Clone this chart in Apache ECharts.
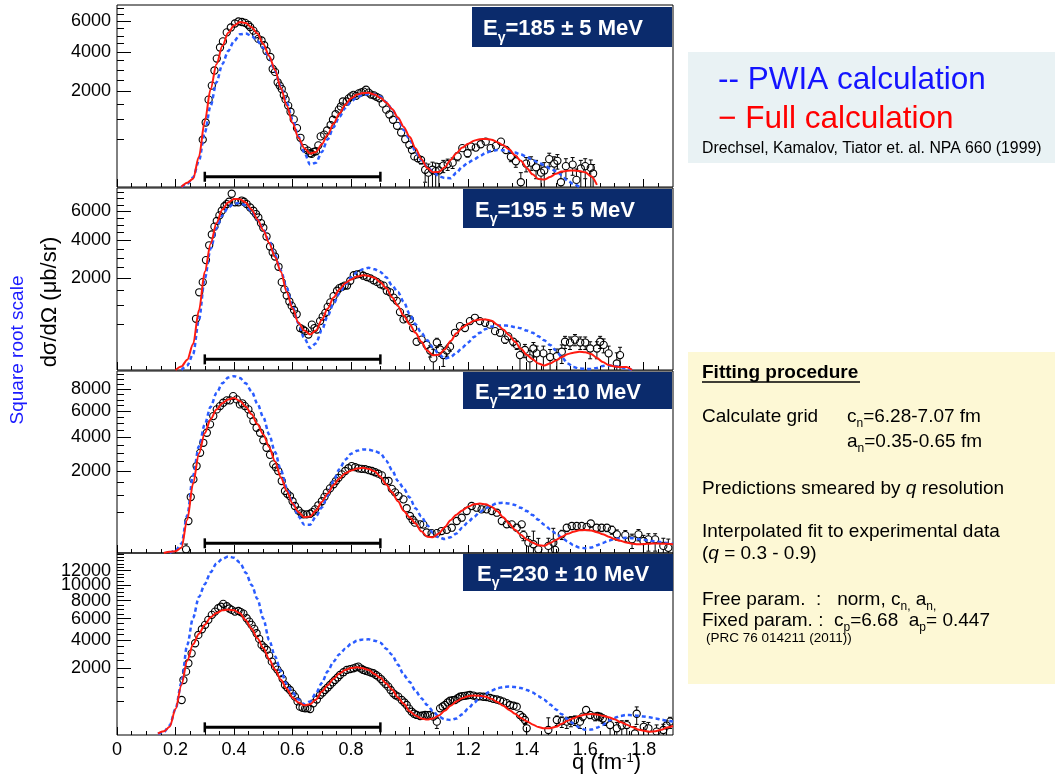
<!DOCTYPE html>
<html>
<head>
<meta charset="utf-8">
<title>Cross sections, square root scale</title>
<script src="https://cdn.jsdelivr.net/npm/echarts@6/dist/echarts.min.js"></script>
<style>
html, body { margin: 0; padding: 0; background: #fff; }
#chart { width: 1055px; height: 780px; }
</style>
</head>
<body>
<div id="chart"></div>
<script>
// q grid for the calculated curves (fm^-1), one row = 0.2
const qGrid = [
  0.12,0.14,0.16,0.18,0.20,0.22,0.24,0.26,0.28,0.30,
  0.32,0.34,0.36,0.38,0.40,0.42,0.44,0.46,0.48,0.50,
  0.52,0.54,0.56,0.58,0.60,0.62,0.64,0.66,0.68,0.70,
  0.72,0.74,0.76,0.78,0.80,0.82,0.84,0.86,0.88,0.90,
  0.92,0.94,0.96,0.98,1.00,1.02,1.04,1.06,1.08,1.10,
  1.12,1.14,1.16,1.18,1.20,1.22,1.24,1.26,1.28,1.30,
  1.32,1.34,1.36,1.38,1.40,1.42,1.44,1.46,1.48,1.50,
  1.52,1.54,1.56,1.58,1.60,1.62,1.64,1.66,1.68,1.70,
  1.72,1.74,1.76,1.78,1.80,1.82,1.84,1.86,1.88,1.90
];

// Eγ = 185 MeV
const red185 = [
  null,null,null,null,null,0,4,15,200,950,
  2100,3300,4350,5200,5700,5960,5880,5580,5150,4480,
  3760,3000,2150,1450,900,530,330,245,270,400,
  600,880,1180,1480,1720,1870,1930,1940,1870,1740,
  1560,1330,1060,790,550,330,170,80,48,50,
  85,160,250,340,410,470,500,505,490,440,
  380,310,220,150,80,35,14,12,22,38,
  52,58,60,56,48,25,1,null,null,null,
  null,null,null,null,null,null,null,null,null,null
];
const blue185 = [
  null,null,null,null,null,0,2,20,150,650,
  1450,2400,3300,4050,4650,5100,5150,5000,4650,4250,
  3650,2950,2200,1550,1000,560,260,110,130,270,
  500,780,1080,1360,1600,1760,1850,1890,1880,1790,
  1570,1330,1010,710,500,280,160,88,50,25,
  18,17,45,90,130,165,210,255,285,300,
  295,285,260,230,200,160,130,105,75,55,
  30,8,2,0,null,null,null,null,null,null,
  null,null,null,null,null,null,null,null,null,null
];
// [q, dσ/dΩ, error]
const points185 = [
  [.293,490,60],[.303,910,70],[.313,1670,80],[.324,2250,90],[.333,2970,100],[.341,3610,100],[.352,4260,110],
  [.362,4640,110],[.375,5230,120],[.389,5570,120],[.403,5850,120],[.415,6000,130],[.427,5960,130],[.438,5900,120],
  [.448,5760,120],[.455,5600,120],[.466,5350,120],[.475,5100,110],[.483,4800,110],[.494,4700,110],[.503,4400,100],
  [.511,4050,100],[.524,3700,100],[.532,3050,90],[.540,2900,90],[.549,2400,80],[.556,2250,80],[.563,2100,80],
  [.570,1850,70],[.576,1680,70],[.585,1450,60],[.593,1240,60],[.604,1000,55],[.615,760,50],[.627,530,45],
  [.640,330,40],[.652,290,40],[.660,250,40],[.665,240,40],[.672,270,40],[.680,280,40],[.688,380,40],
  [.696,560,45],[.708,600,45],[.718,700,50],[.730,840,55],[.738,990,55],[.747,1160,60],[.758,1310,60],
  [.765,1420,60],[.772,1600,65],[.785,1600,65],[.792,1720,65],[.800,1800,70],[.808,1860,70],[.817,1820,70],
  [.826,1920,70],[.835,1960,70],[.843,1990,70],[.851,2070,70],[.860,1950,70],[.868,1870,70],[.878,1840,70],
  [.887,1780,65],[.897,1720,65],[.908,1520,60],[.920,1310,60],[.931,1150,55],[.943,990,50],[.957,820,50],
  [.971,650,45],[.985,500,45],[.999,390,40],[1.008,300,40],[1.016,205,40],[1.028,180,40],[1.039,160,45],
  [1.053,65,60],[1.064,45,70],[1.078,65,70],[1.089,55,70],[1.100,60,60],[1.115,100,55],[1.130,115,55],
  [1.147,130,55],[1.164,205,55],[1.180,330,55],[1.198,250,55],[1.210,360,55],[1.226,340,55],[1.243,400,55],
  [1.260,450,60],[1.277,330,55],[1.295,370,55],[1.312,450,60],[1.329,300,55],[1.346,200,60],[1.363,145,60],
  [1.380,5,40],[1.398,120,70],[1.415,130,70],[1.432,85,70],[1.449,45,60],[1.460,60,70],[1.477,170,80],
  [1.494,120,80],[1.505,150,80],[1.517,5,40],[1.534,95,80],[1.557,110,80],[1.570,11,60],[1.585,75,80],
  [1.600,95,80],[1.619,80,80],[1.627,40,70]
];

// Eγ = 195 MeV
const red195 = [
  null,null,null,null,0,3,25,160,850,2300,
  3800,5150,6150,6700,6980,6950,6700,6150,5400,4650,
  3850,3050,2300,1450,900,530,370,300,370,600,
  900,1250,1550,1800,1950,2080,2140,2110,2030,1840,
  1600,1260,980,700,500,330,190,90,52,55,
  100,200,320,430,510,580,610,610,580,490,
  390,290,190,110,55,28,10,5,10,22,
  40,60,72,80,75,62,35,15,6,3,
  2,2,0,null,null,null,null,null,null,null
];
const blue195 = [
  null,null,null,null,null,0,5,60,600,2000,
  3500,4800,5700,6300,6600,6650,6450,6000,5400,4700,
  3950,3150,2350,1600,950,520,240,115,170,380,
  700,1050,1400,1750,2050,2280,2420,2490,2420,2290,
  2050,1700,1450,1100,750,500,330,210,120,60,
  30,40,70,120,180,260,330,400,450,470,
  475,465,440,415,370,330,270,210,150,90,
  40,10,2,0.5,0.3,0.3,1,4,5,4,
  2,0.5,0,null,null,null,null,null,null,null
];
const points195 = [
  [.270,625,60],[.281,1440,70],[.293,1840,80],[.304,2880,90],[.315,3710,100],[.324,4380,110],[.333,4900,110],
  [.341,5300,120],[.350,5700,120],[.358,6050,130],[.367,6400,130],[.375,6570,130],[.383,6750,130],[.392,7410,140],
  [.403,6710,130],[.415,6710,130],[.426,6850,130],[.434,6750,130],[.443,6570,130],[.455,6300,130],[.466,6050,130],
  [.475,5800,120],[.483,5550,120],[.492,5150,120],[.500,4830,110],[.511,4250,110],[.523,3640,100],[.532,3300,100],
  [.540,3070,90],[.552,2540,90],[.563,1840,80],[.572,1550,70],[.580,1320,70],[.589,1120,60],[.597,980,60],
  [.605,860,55],[.614,740,50],[.626,420,45],[.636,390,45],[.643,360,45],[.654,300,40],[.666,490,45],
  [.675,420,45],[.683,390,45],[.694,570,50],[.703,680,50],[.712,780,55],[.720,950,55],[.729,1090,60],
  [.740,1300,60],[.752,1500,65],[.760,1600,65],[.769,1650,70],[.778,1700,70],[.786,1700,70],[.797,1900,70],
  [.809,2140,75],[.820,2180,75],[.831,2200,75],[.842,2120,75],[.854,2060,75],[.866,2000,70],[.877,1920,70],
  [.888,1850,70],[.900,1750,65],[.911,1700,65],[.922,1500,60],[.933,1440,60],[.945,1250,55],[.956,1140,55],
  [.967,800,50],[.979,610,50],[.990,640,50],[1.001,610,70],[1.012,420,50],[1.024,190,45],[1.041,220,45],
  [1.058,150,45],[1.070,90,50],[1.081,32,70],[1.093,180,60],[1.104,100,55],[1.115,53,50],[1.127,90,45],
  [1.138,130,45],[1.155,330,50],[1.172,460,50],[1.189,420,50],[1.206,570,55],[1.223,650,55],[1.240,570,55],
  [1.258,530,55],[1.275,490,55],[1.292,360,50],[1.309,330,50],[1.326,220,50],[1.337,270,50],[1.354,190,50],
  [1.366,150,50],[1.377,53,60],[1.394,96,60],[1.411,32,60],[1.423,110,70],[1.434,66,70],[1.457,66,70],
  [1.480,40,60],[1.503,45,60],[1.520,80,70],[1.531,190,80],[1.548,180,80],[1.565,220,80],[1.583,180,80],
  [1.600,180,80],[1.617,110,80],[1.640,110,80],[1.651,190,80],[1.663,150,80],[1.680,66,70],[1.708,10,60],
  [1.719,53,70]
];

// Eγ = 210 MeV
const red210 = [
  null,null,0,0.5,1,8,330,1450,2950,4300,
  5350,6150,6700,7050,7180,6900,6400,5750,4950,4200,
  3350,2500,1700,1150,730,500,380,400,540,780,
  1060,1380,1660,1900,2030,2130,2170,2110,2000,1750,
  1400,1100,800,530,380,260,140,80,75,115,
  200,320,440,540,640,710,730,710,640,520,
  380,260,160,100,55,32,18,16,30,50,
  80,110,135,153,158,152,130,105,80,58,
  44,33,26,23,24,26,27,26,25,23
];
const blue210 = [
  null,null,null,0,2,25,420,1800,3400,4950,
  6400,7650,8600,9200,9350,9150,8600,7800,6650,5500,
  4200,3050,2050,1280,760,400,240,240,400,620,
  1000,1550,2100,2600,2950,3120,3200,3190,3100,2980,
  2550,2050,1550,1250,920,600,400,230,120,72,
  58,75,115,190,290,390,500,600,680,745,
  755,730,690,610,527,430,330,240,170,115,
  70,40,18,9,7,9,18,30,46,58,
  66,70,66,58,52,46,40,35,30,26
];
const points210 = [
  [.236,4,20],[.244,306,50],[.252,936,60],[.261,1620,70],[.272,2260,80],[.284,3000,90],[.295,3630,100],
  [.307,4320,110],[.318,4945,110],[.329,5600,120],[.341,6165,130],[.352,6450,130],[.363,6745,130],[.375,6960,140],
  [.386,6960,140],[.397,7360,140],[.409,7050,140],[.420,6600,130],[.428,6700,130],[.437,6450,130],[.449,6165,130],
  [.457,5700,120],[.466,5200,120],[.477,4690,110],[.489,4320,110],[.500,3800,100],[.511,3310,100],[.523,2880,90],
  [.534,2350,80],[.543,2200,80],[.551,2010,80],[.563,1550,70],[.574,1150,60],[.582,1050,60],[.591,970,55],
  [.600,800,50],[.608,660,50],[.620,540,45],[.630,470,45],[.637,447,45],[.648,447,45],[.660,460,45],
  [.668,500,45],[.677,570,50],[.688,680,50],[.700,800,55],[.709,940,55],[.717,1090,60],[.728,1250,60],
  [.740,1410,65],[.748,1550,65],[.757,1690,65],[.768,1850,70],[.780,2010,70],[.791,2150,70],[.802,2260,75],
  [.814,2200,75],[.825,2140,75],[.836,2120,75],[.848,2100,75],[.860,2050,70],[.871,2010,70],[.882,1950,70],
  [.893,1880,70],[.905,1800,65],[.916,1550,60],[.928,1550,60],[.939,1230,55],[.950,1100,55],[.962,970,50],
  [.979,860,50],[.990,600,45],[1.001,410,45],[1.010,330,40],[1.018,275,40],[1.036,246,40],[1.047,240,40],
  [1.058,126,40],[1.075,118,40],[1.093,118,40],[1.109,144,40],[1.127,160,40],[1.144,191,45],[1.161,306,45],
  [1.178,372,50],[1.195,527,50],[1.212,660,55],[1.229,613,55],[1.246,570,55],[1.263,570,55],[1.281,527,55],
  [1.298,485,50],[1.315,306,50],[1.332,246,50],[1.349,246,50],[1.366,191,50],[1.383,246,55],[1.389,95,50],
  [1.406,32,50],[1.423,23,120],[1.440,4,60],[1.474,15,50],[1.491,32,150],[1.497,3,40],[1.520,104,50],
  [1.537,191,55],[1.554,218,55],[1.571,218,55],[1.588,218,55],[1.605,205,55],[1.619,260,60],[1.639,191,55],
  [1.656,191,55],[1.674,191,55],[1.691,160,55],[1.708,104,55],[1.737,95,55],[1.760,56,50],[1.782,104,60],
  [1.799,43,50],[1.816,56,55],[1.839,56,55],[1.867,15,50],[1.884,8,50]
];

// Eγ = 230 MeV
const red230 = [
  null,1,6,30,300,1100,2450,3650,4550,5400,
  6150,6600,6900,6980,6900,6580,5850,5000,4150,3350,
  2550,1900,1350,950,620,470,390,420,560,840,
  1100,1400,1680,1880,1990,2030,1980,1880,1650,1450,
  1180,920,620,430,250,170,120,105,120,170,
  260,380,500,600,670,690,680,650,580,480,
  380,280,200,130,85,50,28,20,20,30,
  55,90,125,160,185,196,185,165,140,110,
  75,50,28,14,8,5,6,12,25,36
];
const blue230 = [
  null,0.5,4,40,300,1200,3600,6100,8450,10100,
  11750,13050,13750,14130,13950,13200,11700,10000,8200,6000,
  4000,2750,1800,1150,800,560,420,500,780,1200,
  1800,2400,2900,3300,3700,3950,4050,4060,3950,3780,
  3300,2850,2200,1600,1250,870,600,400,250,150,
  110,100,120,190,310,460,620,760,880,970,
  1020,1040,1020,980,900,800,670,550,410,290,
  190,110,58,25,12,13,24,45,90,130,
  160,178,175,165,152,138,122,105,90,80
];
const points230 = [
  [.221,544,60],[.227,1340,70],[.236,1780,80],[.244,2285,90],[.255,2960,100],[.267,3735,110],[.278,4444,120],
  [.290,4962,120],[.301,5378,130],[.312,5878,130],[.324,6400,140],[.335,6756,140],[.346,7136,150],[.355,7300,150],
  [.363,7627,150],[.375,7360,150],[.384,7100,150],[.392,6944,140],[.403,6756,140],[.415,6830,140],[.423,6700,140],
  [.432,6540,140],[.443,6050,130],[.452,5700,130],[.460,5378,130],[.469,5000,120],[.477,4594,120],[.486,4100,110],
  [.494,3600,110],[.503,3400,100],[.512,3211,100],[.520,2800,90],[.529,2388,90],[.540,2073,80],[.548,1900,80],
  [.557,1692,80],[.566,1400,70],[.574,1111,65],[.582,1000,60],[.591,900,60],[.600,760,55],[.608,653,50],
  [.617,500,50],[.625,356,45],[.634,330,45],[.643,316,45],[.651,320,45],[.660,300,45],[.671,446,50],
  [.683,560,50],[.694,711,55],[.703,800,55],[.711,900,55],[.720,1000,60],[.728,1111,60],[.737,1230,60],
  [.745,1344,65],[.754,1470,65],[.762,1600,65],[.774,1750,70],[.785,1878,70],[.797,1930,70],[.808,1975,70],
  [.817,2030,75],[.825,2073,75],[.834,1960,70],[.842,1878,70],[.850,1830,70],[.859,1780,70],[.868,1730,70],
  [.876,1692,70],[.885,1600,65],[.893,1510,65],[.902,1390,60],[.910,1262,60],[.918,1150,55],[.927,1037,55],
  [.935,900,50],[.944,772,50],[.952,700,50],[.961,653,50],[.973,544,45],[.982,470,45],[.990,400,45],
  [.998,310,40],[1.007,241,40],[1.015,200,40],[1.024,178,40],[1.036,160,40],[1.044,170,40],[1.053,178,40],
  [1.062,175,40],[1.070,178,40],[1.081,150,45],[1.093,79,60],[1.104,316,50],[1.113,360,50],[1.121,400,50],
  [1.130,470,50],[1.138,520,50],[1.147,540,50],[1.155,544,50],[1.164,600,55],[1.172,650,55],[1.180,670,55],
  [1.189,680,55],[1.198,700,55],[1.206,711,55],[1.218,690,55],[1.229,650,55],[1.240,660,55],[1.252,650,55],
  [1.263,640,55],[1.275,610,55],[1.286,580,55],[1.298,560,55],[1.309,530,50],[1.320,493,50],[1.332,450,50],
  [1.343,400,50],[1.355,380,50],[1.366,356,50],[1.377,178,50],[1.386,140,50],[1.394,100,50],[1.400,20,50],
  [1.474,11,120],[1.503,100,60],[1.520,85,60],[1.537,79,60],[1.551,90,60],[1.565,100,60],[1.582,79,60],
  [1.592,150,60],[1.603,278,70],[1.617,178,60],[1.634,149,60],[1.642,160,60],[1.651,149,60],[1.660,120,60],
  [1.668,100,60],[1.685,44,50],[1.708,20,50],[1.725,40,50],[1.742,44,50],[1.770,1,30],[1.776,200,150],
  [1.800,30,50],[1.816,20,50],[1.844,5,40],[1.867,11,40],[1.878,40,50],[1.890,79,60]
];

// axes
const xLabelValues = [0, 0.2, 0.4, 0.6, 0.8, 1, 1.2, 1.4, 1.6, 1.8];
const yMax = [7250, 7900, 9900, 14700];
const yLabelSets = [
  [2000, 4000, 6000],
  [2000, 4000, 6000],
  [2000, 4000, 6000, 8000],
  [2000, 4000, 6000, 8000, 10000, 12000]
];
const fitRange = [0.3, 0.9];
const fitBarLevel = [23, 27, 28, 26];
const titles = ['=185 ± 5 MeV', '=195 ± 5 MeV', '=210 ±10 MeV', '=230 ± 10 MeV'];

const panels = [
  { red: red185, blue: blue185, points: points185 },
  { red: red195, blue: blue195, points: points195 },
  { red: red210, blue: blue210, points: points210 },
  { red: red230, blue: blue230, points: points230 }
];

const FONT = '"Liberation Sans", Arial, Helvetica, sans-serif';
const gridTop = [5, 188, 371, 553];
const gridH = 182;

const chart = echarts.init(document.getElementById('chart'));

function curveData(arr) {
  let out = [];
  for (let j = 0; j < qGrid.length; j++) {
    if (arr[j] != null) out.push([qGrid[j], Math.sqrt(arr[j])]);
  }
  return out;
}

function renderPoints(params, api) {
  const q = api.value(0), v = api.value(1), e = api.value(2);
  const c = api.coord([q, Math.sqrt(v)]);
  const lo = api.coord([q, Math.sqrt(Math.max(v - e, 0))])[1];
  const hi = api.coord([q, Math.sqrt(v + e)])[1];
  const r = 3.6;
  const st = { stroke: '#000', lineWidth: 1 };
  let kids = [];
  if (lo > c[1] + r) {
    kids.push({ type: 'line', shape: { x1: c[0], y1: c[1] + r, x2: c[0], y2: lo }, style: st });
    if (v - e > 0) kids.push({ type: 'line', shape: { x1: c[0] - 2, y1: lo, x2: c[0] + 2, y2: lo }, style: st });
  }
  if (hi < c[1] - r) {
    kids.push({ type: 'line', shape: { x1: c[0], y1: c[1] - r, x2: c[0], y2: hi }, style: st });
    kids.push({ type: 'line', shape: { x1: c[0] - 2, y1: hi, x2: c[0] + 2, y2: hi }, style: st });
  }
  kids.push({ type: 'circle', shape: { cx: c[0], cy: c[1], r: r }, style: { fill: 'none', stroke: '#000', lineWidth: 1.1 } });
  return { type: 'group', children: kids };
}

function renderBar(params, api) {
  const y = Math.sqrt(api.value(2));
  const a = api.coord([api.value(0), y]);
  const b = api.coord([api.value(1), y]);
  const st = { stroke: '#000', lineWidth: 2.5 };
  return { type: 'group', children: [
    { type: 'line', shape: { x1: a[0], y1: a[1], x2: b[0], y2: b[1] }, style: { stroke: '#000', lineWidth: 3 } },
    { type: 'line', shape: { x1: a[0], y1: a[1] - 5, x2: a[0], y2: a[1] + 5 }, style: st },
    { type: 'line', shape: { x1: b[0], y1: b[1] - 5, x2: b[0], y2: b[1] + 5 }, style: st }
  ] };
}

let grids = [], xAxes = [], yAxes = [], series = [], graphics = [];

// minor tick positions
let xMinor = [];
for (let k = 1; k <= 38; k++) if (k % 4 !== 0) xMinor.push(k * 0.05);

function yLabelStyle(values) {
  return { customValues: values, fontSize: 18, color: '#000', fontFamily: FONT, margin: 6,
    hideOverlap: false, showMinLabel: true, showMaxLabel: true,
    formatter: function (v) { return String(Math.round(v * v)); } };
}

panels.forEach(function (p, i) {
  grids.push({ left: 117, width: 556, top: gridTop[i], height: gridH, show: true,
    borderColor: '#000', borderWidth: 1, backgroundColor: 'transparent' });

  xAxes.push({
    gridIndex: i, type: 'value', min: 0, max: 1.9, position: 'bottom',
    axisLine: { show: false }, splitLine: { show: false },
    axisTick: { show: true, inside: true, length: 8, customValues: xLabelValues, lineStyle: { color: '#000' } },
    axisLabel: { show: i === 3, customValues: xLabelValues, fontSize: 18, color: '#000', fontFamily: FONT, margin: 6,
      hideOverlap: false, showMinLabel: true, showMaxLabel: true,
      formatter: function (v) { return String(Math.round(v * 10) / 10); } }
  });
  xAxes.push({
    gridIndex: i, type: 'value', min: 0, max: 1.9, position: 'bottom',
    axisLine: { show: false }, splitLine: { show: false }, axisLabel: { show: false },
    axisTick: { show: true, inside: true, length: 4, customValues: xMinor, lineStyle: { color: '#000' } }
  });

  // labels alternate between the two y axes so close labels are never dropped
  const ySq = yLabelSets[i].map(Math.sqrt);
  const ySqEven = ySq.filter(function (v, k) { return k % 2 === 0; });
  const ySqOdd = ySq.filter(function (v, k) { return k % 2 === 1; });
  let yMinor = [];
  for (let v = 500; v < yMax[i]; v += 500) if (yLabelSets[i].indexOf(v) < 0) yMinor.push(Math.sqrt(v));
  yAxes.push({
    gridIndex: i, type: 'value', min: 0, max: Math.sqrt(yMax[i]), position: 'left',
    axisLine: { show: false }, splitLine: { show: false },
    axisTick: { show: true, inside: true, length: 14, customValues: ySq, lineStyle: { color: '#000' } },
    axisLabel: yLabelStyle(ySqEven)
  });
  yAxes.push({
    gridIndex: i, type: 'value', min: 0, max: Math.sqrt(yMax[i]), position: 'left',
    axisLine: { show: false }, splitLine: { show: false },
    axisLabel: yLabelStyle(ySqOdd),
    axisTick: { show: true, inside: true, length: 7, customValues: yMinor, lineStyle: { color: '#000' } }
  });

  series.push({
    type: 'custom', xAxisIndex: 2 * i, yAxisIndex: 2 * i, clip: true, z: 2,
    renderItem: renderPoints, data: p.points
  });
  series.push({
    type: 'custom', xAxisIndex: 2 * i, yAxisIndex: 2 * i, z: 3,
    renderItem: renderBar, data: [[fitRange[0], fitRange[1], fitBarLevel[i]]]
  });
  series.push({
    type: 'line', name: 'PWIA', xAxisIndex: 2 * i, yAxisIndex: 2 * i, z: 4,
    data: curveData(p.blue), showSymbol: false, smooth: 0.3, smoothMonotone: 'x',
    lineStyle: { color: '#2a5cff', width: 2.5, type: [4, 3] }
  });
  series.push({
    type: 'line', name: 'Full', xAxisIndex: 2 * i, yAxisIndex: 2 * i, z: 5,
    data: curveData(p.red), showSymbol: false, smooth: 0.3, smoothMonotone: 'x',
    lineStyle: { color: '#ff1a10', width: 2 }
  });
});

// energy boxes
const boxes = [
  { x: 472, y: 7, w: 200, h: 40, tx: 483 },
  { x: 463, y: 189, w: 209, h: 39, tx: 475 },
  { x: 463, y: 372, w: 209, h: 37, tx: 475 },
  { x: 463, y: 554, w: 210, h: 37, tx: 477 }
];
const titleRich = {
  e: { fontSize: 22, fontWeight: 'bold', fontFamily: FONT, fill: '#fff', color: '#fff', lineHeight: 32, verticalAlign: 'top' },
  g: { fontSize: 14, fontWeight: 'bold', fontFamily: FONT, fill: '#fff', color: '#fff', lineHeight: 14, verticalAlign: 'top', padding: [13, 0, 0, 0] }
};
boxes.forEach(function (b, i) {
  graphics.push({ type: 'rect', shape: { x: b.x, y: b.y, width: b.w, height: b.h }, style: { fill: '#0b2b6c' }, z: 50 });
  graphics.push({ type: 'text', x: b.tx, y: b.y + b.h / 2 + 7, z: 51,
    style: { text: '{e|E}{g|γ}{e|' + titles[i] + '}', rich: titleRich, verticalAlign: 'middle', align: 'left' } });
});

// axis titles
graphics.push({ type: 'text', x: 50, y: 302, rotation: Math.PI / 2, z: 20,
  style: { text: 'dσ/dΩ (μb/sr)', fontSize: 22, fontFamily: FONT, fill: '#000', align: 'center', verticalAlign: 'middle' } });
graphics.push({ type: 'text', x: 18, y: 350, rotation: Math.PI / 2, z: 20,
  style: { text: 'Square root scale', fontSize: 19, fontFamily: FONT, fill: '#1a1aff', align: 'center', verticalAlign: 'middle' } });
graphics.push({ type: 'text', x: 641, y: 766, z: 20,
  style: { text: '{t|q (fm}{u|-1}{t|)}', align: 'right', verticalAlign: 'middle',
    rich: {
      t: { fontSize: 22, fontFamily: FONT, fill: '#000', color: '#000', lineHeight: 28, verticalAlign: 'top' },
      u: { fontSize: 13, fontFamily: FONT, fill: '#000', color: '#000', lineHeight: 13, verticalAlign: 'top' }
    } } });

// legend box
graphics.push({ type: 'rect', shape: { x: 688, y: 52, width: 367, height: 111 }, style: { fill: '#e9f2f4' }, z: 10 });
graphics.push({ type: 'text', x: 718, y: 80, z: 11,
  style: { text: '-- PWIA calculation', fontSize: 31.5, fontFamily: FONT, fill: '#1414ff', verticalAlign: 'middle' } });
graphics.push({ type: 'text', x: 718, y: 119, z: 11,
  style: { text: '− Full calculation', fontSize: 31.5, fontFamily: FONT, fill: '#ff0000', verticalAlign: 'middle' } });
graphics.push({ type: 'text', x: 702, y: 149, z: 11,
  style: { text: 'Drechsel, Kamalov, Tiator et. al. NPA 660 (1999)', fontSize: 15.8, fontFamily: FONT, fill: '#000', verticalAlign: 'middle' } });

// fitting procedure box
const bodyRich = {
  t: { fontSize: 19, fontFamily: FONT, fill: '#000', color: '#000', lineHeight: 28, verticalAlign: 'top' },
  i: { fontSize: 19, fontStyle: 'italic', fontFamily: FONT, fill: '#000', color: '#000', lineHeight: 28, verticalAlign: 'top' },
  s: { fontSize: 12, fontFamily: FONT, fill: '#000', color: '#000', lineHeight: 12, verticalAlign: 'top', padding: [11, 0, 0, 0] },
  b: { fontSize: 19, fontWeight: 'bold', fontFamily: FONT, fill: '#000', color: '#000', lineHeight: 28, verticalAlign: 'top' }
};
function bodyText(x, y, txt) {
  graphics.push({ type: 'text', x: x, y: y + 6, z: 11, style: { text: txt, rich: bodyRich, verticalAlign: 'middle', align: 'left' } });
}
graphics.push({ type: 'rect', shape: { x: 688, y: 352, width: 367, height: 332 }, style: { fill: '#fdf8d5' }, z: 10 });
bodyText(702, 371, '{b|Fitting procedure}');
graphics.push({ type: 'line', shape: { x1: 702, y1: 382, x2: 860, y2: 382 }, style: { stroke: '#000', lineWidth: 1.5 }, z: 11 });
bodyText(702, 415, '{t|Calculate grid}');
bodyText(847, 415, '{t|c}{s|n}{t|=6.28-7.07 fm}');
bodyText(847, 440, '{t|a}{s|n}{t|=0.35-0.65 fm}');
bodyText(702, 487, '{t|Predictions smeared by }{i|q}{t| resolution}');
bodyText(702, 530, '{t|Interpolated fit to experimental data}');
bodyText(702, 552, '{t|(}{i|q}{t| = 0.3 - 0.9)}');
bodyText(702, 598, '{t|Free param.  :   norm, c}{s|n,}{t| a}{s|n,}');
bodyText(702, 619, '{t|Fixed param. :  c}{s|p}{t|=6.68  a}{s|p}{t|= 0.447}');
graphics.push({ type: 'text', x: 706, y: 638, z: 11,
  style: { text: '(PRC 76 014211 (2011))', fontSize: 13.5, fontFamily: FONT, fill: '#000', verticalAlign: 'middle' } });

chart.setOption({
  animation: false,
  backgroundColor: '#fff',
  grid: grids,
  xAxis: xAxes,
  yAxis: yAxes,
  series: series,
  graphic: graphics
});
</script>
</body>
</html>
